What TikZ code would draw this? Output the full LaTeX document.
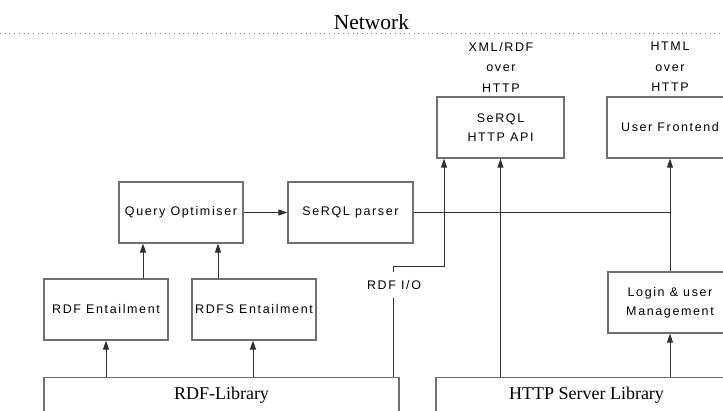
\documentclass[tikz,border=0pt]{standalone}
\usepackage{fontspec}
\setmainfont{Liberation Serif}
\newfontfamily\uisans[LetterSpace=13]{Liberation Sans}
\usetikzlibrary{arrows.meta}

\definecolor{boxline}{HTML}{707070}
\definecolor{wire}{HTML}{303030}

\tikzset{
  box/.style={draw=boxline, line width=1.2pt, rectangle, inner sep=0pt,
    minimum height=61pt, align=center, font=\uisans\fontsize{12.5}{19}\selectfont},
  libbox/.style={draw=boxline, line width=1.2pt, rectangle, anchor=north,
    inner xsep=0pt, inner ysep=9pt, text height=13pt, text depth=40pt,
    font=\fontsize{18}{20}\selectfont},
  tag/.style={align=center, inner sep=0pt, font=\uisans\fontsize{12.5}{20.5}\selectfont},
  wireline/.style={draw=wire, line width=0.9pt},
  arr/.style={wireline, -{Triangle[length=9pt,width=6pt]}},
}

\begin{document}
\begin{tikzpicture}[x=1pt, y=-1pt]
  \useasboundingbox (0,0) rectangle (723,410);
  \clip (0,0) rectangle (723,410);

  % network boundary
  \node[anchor=base, inner sep=0pt, font=\fontsize{21.5}{24}\selectfont] (net) at (371.5,29) {Network};
  \draw[gray, line width=0.8pt, dash pattern=on 1pt off 3.7pt] (0,33.5) -- (723,33.5);

  % protocol labels
  \node[tag] (xmltag) at (501,67) {XML/RDF\\over\\HTTP};
  \node[tag] (htmltag) at (670,67) {HTML\\over\\HTTP};

  % service boxes
  \node[box, minimum width=127pt] (api) at (500.5,127.5) {SeRQL\\HTTP API};
  \node[box, minimum width=126pt] (front) at (670,127.5) {User Frontend};
  \node[box, minimum width=124pt] (qo) at (181,212.5) {Query Optimiser};
  \node[box, minimum width=125pt] (parser) at (350.5,212.5) {SeRQL parser};
  \node[box, minimum width=124pt] (rdfent) at (106,309.5) {RDF Entailment};
  \node[box, minimum width=124pt] (rdfsent) at (254,309.5) {RDFS Entailment};
  \node[box, minimum width=124pt] (login) at (670,302.5) {Login \& user\\Management};

  % libraries
  \node[libbox, minimum width=355pt] (rdflib) at (221.5,377) {RDF-Library};
  \node[libbox, minimum width=301pt] (httplib) at (586.5,377) {HTTP Server Library};

  % RDF I/O path
  \node[tag, minimum height=26pt] (rdfio) at (394,285) {RDF I/O};
  \coordinate (iojog) at (393,266);
  \coordinate (ioturn) at (444,266);

  % connectors
  \draw[arr] (rdflib.north -| rdfent) -- (rdfent.south);
  \draw[arr] (rdflib.north -| 253,0) -- (rdfsent.south -| 253,0);
  \draw[arr] (rdfent.north -| 143,0) -- (qo.south -| 143,0);
  \draw[arr] (rdfsent.north -| 218,0) -- (qo.south -| 218,0);
  \draw[arr] (qo.east) -- (parser.west);
  \draw[wireline] (parser.east) -- (parser.east -| front);
  \draw[arr] (login.north) -- (front.south);
  \draw[arr] (httplib.north -| login) -- (login.south);
  \draw[arr] (httplib.north -| api) -- (api.south);
  \draw[wireline] (rdflib.north -| iojog) -- (rdfio.south -| iojog);
  \draw[arr] (rdfio.north -| iojog) -- (iojog) -- (ioturn) -- (api.south -| ioturn);
\end{tikzpicture}
\end{document}
